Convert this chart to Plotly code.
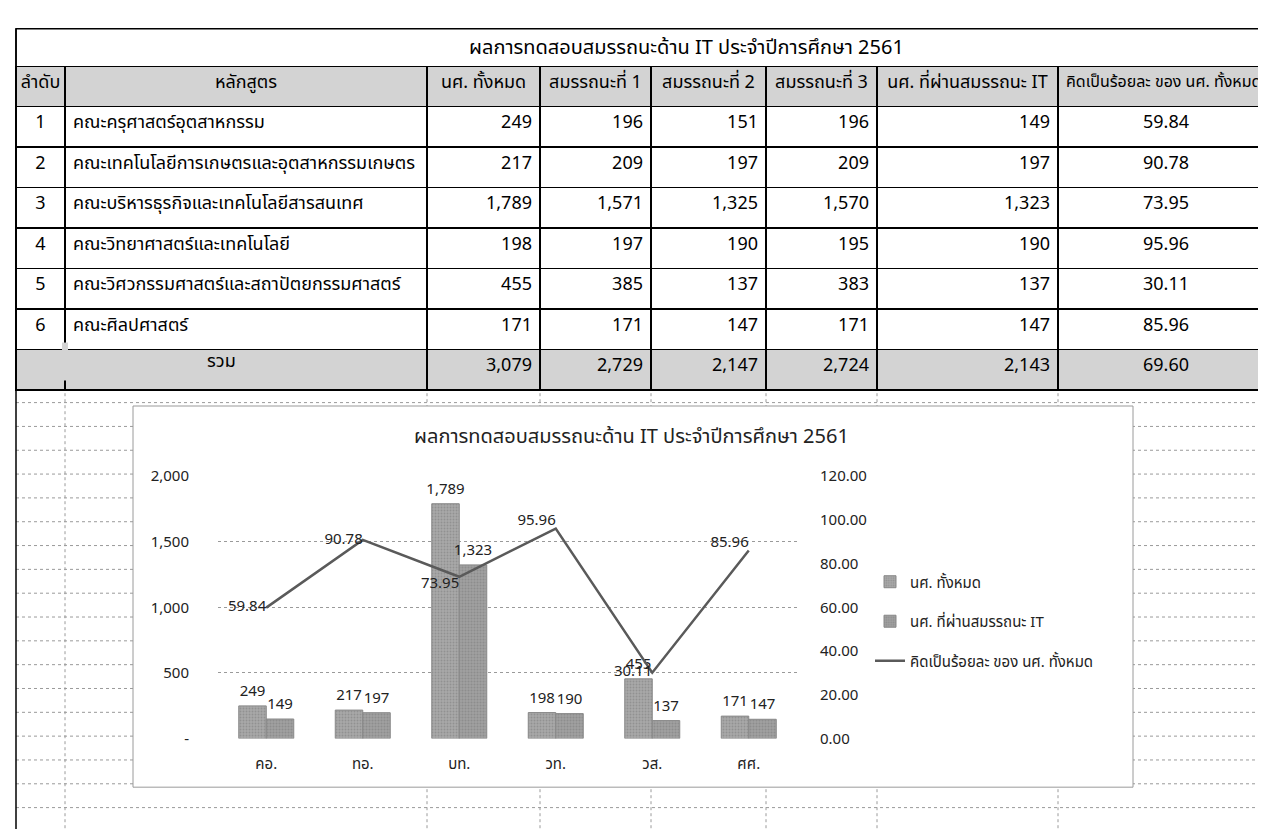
import plotly.graph_objects as go

# ---------------- data ----------------
table_title = "ผลการทดสอบสมรรถนะด้าน IT ประจำปีการศึกษา 2561"
col_headers = ["ลำดับ", "หลักสูตร", "นศ. ทั้งหมด", "สมรรถนะที่ 1", "สมรรถนะที่ 2",
               "สมรรถนะที่ 3", "นศ. ที่ผ่านสมรรถนะ IT", "คิดเป็นร้อยละ ของ นศ. ทั้งหมด"]
order_no = ["1", "2", "3", "4", "5", "6"]
faculties = ["คณะครุศาสตร์อุตสาหกรรม", "คณะเทคโนโลยีการเกษตรและอุตสาหกรรมเกษตร",
             "คณะบริหารธุรกิจและเทคโนโลยีสารสนเทศ", "คณะวิทยาศาสตร์และเทคโนโลยี",
             "คณะวิศวกรรมศาสตร์และสถาปัตยกรรมศาสตร์", "คณะศิลปศาสตร์"]
short_names = ["คอ.", "ทอ.", "บท.", "วท.", "วส.", "ศศ."]
students_total = [249, 217, 1789, 198, 455, 171]
comp1 = [196, 209, 1571, 197, 385, 171]
comp2 = [151, 197, 1325, 190, 137, 147]
comp3 = [196, 209, 1570, 195, 383, 171]
passed_it = [149, 197, 1323, 190, 137, 147]
percent_pass = [59.84, 90.78, 73.95, 95.96, 30.11, 85.96]
total_label = "รวม"
totals = [3079, 2729, 2147, 2724, 2143]
total_percent = 69.60

chart_title = "ผลการทดสอบสมรรถนะด้าน IT ประจำปีการศึกษา 2561"
legend_names = ["นศ. ทั้งหมด", "นศ. ที่ผ่านสมรรถนะ IT", "คิดเป็นร้อยละ ของ นศ. ทั้งหมด"]
y_left_ticks = [0, 500, 1000, 1500, 2000]
y_right_ticks = [0, 20, 40, 60, 80, 100, 120]

# ---------------- helpers ----------------
W, H = 1266, 833
FONT = "Tahoma, 'Noto Sans Thai', 'Noto Sans', sans-serif"


def px(x):
    return x / W


def py(y):
    return 1 - y / H


def fmt_int(v):
    return f"{v:,}"


fig = go.Figure()

# ---------------- table ----------------
col_edges = [8, 57, 419, 532, 643, 758, 869, 1050, 1266]
col_widths = [col_edges[i + 1] - col_edges[i] for i in range(len(col_edges) - 1)]
HEAD_FILL = "#d3d3d3"
TITLE_TOP = 10
TABLE_TOP = 49
HEAD_H = 40
ROW_H = 40.5
TFONT = 18

cols = [
    order_no + [""],
    faculties + [""],
    [fmt_int(v) for v in students_total] + [fmt_int(totals[0])],
    [fmt_int(v) for v in comp1] + [fmt_int(totals[1])],
    [fmt_int(v) for v in comp2] + [fmt_int(totals[2])],
    [fmt_int(v) for v in comp3] + [fmt_int(totals[3])],
    [fmt_int(v) for v in passed_it] + [fmt_int(totals[4])],
    [f"{v:.2f}" for v in percent_pass] + [f"{total_percent:.2f}"],
]
n_rows = len(order_no) + 1
fills = [["white"] * (n_rows - 1) + [HEAD_FILL] for _ in cols]
aligns = ["center", "left", "right", "right", "right", "right", "right", "center"]
head_aligns = ["center"] * 7 + ["left"]
head_sizes = [TFONT] * 7 + [16]
head_values = [h.replace(" ", "\u00a0") for h in col_headers]

fig.add_trace(go.Table(
    domain=dict(x=[px(col_edges[0]), 1.0], y=[py(392), py(TABLE_TOP)]),
    columnwidth=col_widths,
    header=dict(values=head_values, fill_color=HEAD_FILL, line=dict(color="black", width=1.5),
                align=head_aligns, height=HEAD_H, font=dict(family=FONT, size=head_sizes, color="black")),
    cells=dict(values=cols, fill_color=fills, line=dict(color="black", width=1.5),
               align=aligns, height=ROW_H, font=dict(family=FONT, size=TFONT, color="black")),
))

shapes = []
annotations = []

# title row of table
shapes.append(dict(type="rect", xref="paper", yref="paper", x0=px(8), x1=px(1266), y0=py(TABLE_TOP),
                   y1=py(TITLE_TOP), line=dict(color="black", width=1.5), fillcolor="white", layer="below"))
annotations.append(dict(xref="paper", yref="paper", x=px(678), y=py((TITLE_TOP + TABLE_TOP) / 2),
                        text=table_title, showarrow=False,
                        font=dict(family=FONT, size=20, color="black"), xanchor="center", yanchor="middle"))

# merged "total" label cell
tot_top = TABLE_TOP + HEAD_H + ROW_H * (n_rows - 1)
shapes.append(dict(type="rect", xref="paper", yref="paper", x0=px(col_edges[1] - 3), x1=px(col_edges[1] + 3),
                   y0=py(tot_top + ROW_H - 0.75), y1=py(tot_top + 0.75), line=dict(width=0),
                   fillcolor=HEAD_FILL, layer="above"))
annotations.append(dict(xref="paper", yref="paper", x=px((col_edges[0] + col_edges[2]) / 2),
                        y=py(tot_top + ROW_H / 2), text=total_label, showarrow=False,
                        font=dict(family=FONT, size=TFONT, color="black"), xanchor="center", yanchor="middle"))

# spreadsheet grid below table
grid_style = dict(color="#9a9a9a", width=1, dash="dot")
y = tot_top + ROW_H + 22
while y < H:
    shapes.append(dict(type="line", xref="paper", yref="paper", x0=px(8), x1=1, y0=py(y), y1=py(y),
                       line=grid_style, layer="below"))
    y += 24.5
for xe in col_edges[1:-1]:
    shapes.append(dict(type="line", xref="paper", yref="paper", x0=px(xe), x1=px(xe),
                       y0=py(tot_top + ROW_H), y1=0, line=grid_style, layer="below"))
shapes.append(dict(type="line", xref="paper", yref="paper", x0=px(8), x1=px(8), y0=py(TITLE_TOP), y1=0,
                   line=dict(color="black", width=1.5), layer="below"))

# chart box
shapes.append(dict(type="rect", xref="paper", yref="paper", x0=px(125), x1=px(1125), y0=py(790), y1=py(398),
                   line=dict(color="#9a9a9a", width=1), fillcolor="white", layer="below"))

# ---------------- chart ----------------
LFONT = 15
bar_pattern = dict(shape=".", fgcolor="#7a7a7a", size=3, solidity=0.35)
fig.add_trace(go.Bar(
    x=short_names, y=students_total, name=legend_names[0], legendgroup="a",
    marker=dict(color="#a9a9a9", line=dict(color="#888888", width=1), pattern=bar_pattern),
    text=[fmt_int(v) for v in students_total], textposition="outside", constraintext="none",
    textfont=dict(family=FONT, size=LFONT, color="#222"), cliponaxis=False,
))
fig.add_trace(go.Bar(
    x=short_names, y=passed_it, name=legend_names[1], legendgroup="b",
    marker=dict(color="#a0a0a0", line=dict(color="#888888", width=1), pattern=bar_pattern),
    text=[fmt_int(v) for v in passed_it], textposition="outside", constraintext="none",
    textfont=dict(family=FONT, size=LFONT, color="#222"), cliponaxis=False,
))
fig.add_trace(go.Scatter(
    x=short_names, y=percent_pass, name=legend_names[2], legendgroup="c", yaxis="y2",
    mode="lines+text", line=dict(color="#5a5a5a", width=2.5),
    text=[f"{v:.2f}" for v in percent_pass],
    textposition=["middle left", "middle left", "bottom left", "top left", "middle left", "top left"],
    textfont=dict(family=FONT, size=LFONT, color="#222"), cliponaxis=False,
))

annotations.append(dict(xref="paper", yref="paper", x=px(623), y=py(430), text=chart_title, showarrow=False,
                        font=dict(family=FONT, size=20, color="#222"), xanchor="center", yanchor="middle"))

fig.update_layout(
    width=W, height=H, margin=dict(l=0, r=0, t=0, b=0),
    paper_bgcolor="white", plot_bgcolor="rgba(0,0,0,0)",
    barmode="group", bargap=0.43, bargroupgap=0,
    font=dict(family=FONT, size=LFONT, color="#222"),
    shapes=shapes, annotations=annotations,
    xaxis=dict(domain=[px(210), px(789)], showgrid=False, showline=False, ticks="",
               tickfont=dict(size=LFONT), ticklabelstandoff=14, fixedrange=True),
    yaxis=dict(domain=[py(740), py(470)], range=[0, 2000], tickvals=y_left_ticks,
               ticktext=["-" if v == 0 else fmt_int(v) for v in y_left_ticks],
               showgrid=True, gridcolor="#9a9a9a", griddash="dot", gridwidth=1,
               zeroline=False, showline=False, ticks="", tickfont=dict(size=LFONT), ticklabelstandoff=28),
    yaxis2=dict(overlaying="y", side="right", range=[0, 120], tickvals=y_right_ticks,
                ticktext=[f"{v:.2f}" for v in y_right_ticks], showgrid=False, zeroline=False,
                showline=False, ticks="", tickfont=dict(size=LFONT), ticklabelstandoff=22),
    legend=dict(x=px(862), y=py(562), xanchor="left", yanchor="top", bgcolor="rgba(0,0,0,0)",
                font=dict(family=FONT, size=LFONT, color="#222"), tracegroupgap=17,
                itemwidth=30, traceorder="grouped"),
    showlegend=True,
)

fig.write_html("out.html")
